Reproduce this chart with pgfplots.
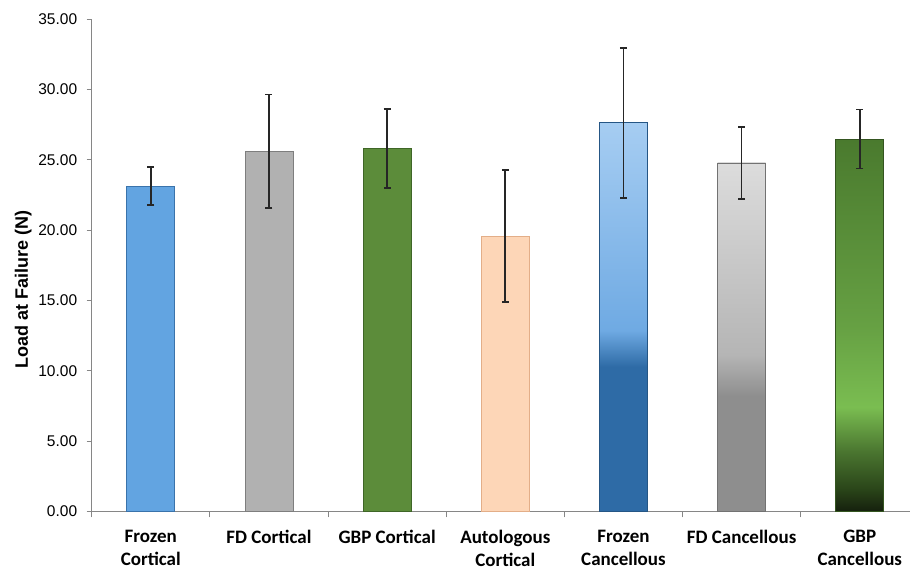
\documentclass[border=0pt]{standalone}
\usepackage{fontspec}
\setmainfont{Liberation Sans}
\newfontfamily\carlito{Carlito}
\usepackage{pgfplots}
\pgfplotsset{compat=1.18}
\usetikzlibrary{calc}

\definecolor{axisgray}{HTML}{868686}
\definecolor{fzcFill}{HTML}{62A4E1}
\definecolor{fzcDraw}{HTML}{3A73AB}
\definecolor{fdcFill}{HTML}{B1B1B1}
\definecolor{fdcDraw}{HTML}{7E7E7E}
\definecolor{gbcFill}{HTML}{5C8C3A}
\definecolor{gbcDraw}{HTML}{3F6627}
\definecolor{autFill}{HTML}{FDD6B7}
\definecolor{autDraw}{HTML}{E3AE88}
% cancellous gradients
\definecolor{fcDark}{HTML}{2E6BA6}
\definecolor{fcMid}{HTML}{6FAAE3}
\definecolor{fcTop}{HTML}{A6CDF2}
\definecolor{gcDark}{HTML}{8E8E8E}
\definecolor{gcMid}{HTML}{B5B5B5}
\definecolor{gcTop}{HTML}{DCDCDC}
\definecolor{ggBot}{HTML}{15200D}
\definecolor{ggLow}{HTML}{2A4519}
\definecolor{ggBright}{HTML}{7ABD51}
\definecolor{ggMid}{HTML}{66A043}
\definecolor{ggTop}{HTML}{4A7A2E}

% bar bbox maps to 25bp..75bp
\pgfdeclareverticalshading{frozencanc}{100bp}{color(0bp)=(fcDark); color(25bp)=(fcDark); color(43.6bp)=(fcDark); color(48.3bp)=(fcMid); color(75bp)=(fcTop); color(100bp)=(fcTop)}
\pgfdeclareverticalshading{fdcanc}{100bp}{color(0bp)=(gcDark); color(25bp)=(gcDark); color(41.5bp)=(gcDark); color(47.5bp)=(gcMid); color(75bp)=(gcTop); color(100bp)=(gcTop)}
\pgfdeclareverticalshading{gbpcanc}{100bp}{color(0bp)=(ggBot); color(25bp)=(ggBot); color(28bp)=(ggLow); color(33bp)=(ggLow!60!ggBright); color(39bp)=(ggBright); color(50bp)=(ggMid); color(75bp)=(ggTop); color(100bp)=(ggTop)}

\begin{document}
\begin{tikzpicture}
  \begin{axis}[
      scale only axis,
      width=818.3pt, height=492.5pt,
      axis lines=left,
      axis line style={-, draw=axisgray, line width=1pt},
      xmin=-0.5, xmax=6.425,
      ymin=0, ymax=35,
      ytick={0,5,...,35},
      yticklabel style={/pgf/number format/fixed, /pgf/number format/fixed zerofill,
        /pgf/number format/precision=2, /pgf/number format/assume math mode=true},
      yticklabel style={font=\fontsize{15.5}{18}\selectfont, color=black, xshift=-6pt},
      xtick={0,...,6},
      xticklabels={{Frozen\\Cortical}, {FD Cortical}, {GBP Cortical}, {Autologous\\Cortical}, {Frozen\\Cancellous}, {FD Cancellous}, {GBP\\Cancellous}},
      xticklabel style={align=center, font=\carlito\bfseries\fontsize{19}{23.5}\selectfont, color=black, yshift=-10pt},
      major x tick style={draw=none},
      minor xtick={-0.5,0.5,...,6.5},
      tick align=outside,
      major tick length=5pt,
      minor tick length=6pt,
      tick style={axisgray, line width=0.8pt},
      ylabel={Load at Failure (N)},
      ylabel style={at={(ticklabel cs:0.447)}, font=\bfseries\fontsize{18}{21}\selectfont, color=black, xshift=2pt},
      ybar, bar width=48pt, bar shift=0pt,
      error bars/y dir=both, error bars/y explicit,
      error bars/error bar style={line width=1.6pt, color=black!85},
      error bars/error mark options={rotate=90, mark size=3.5pt, line width=1.6pt, color=black!85},
      clip=false,
    ]
    \addplot[fill=fzcFill, draw=fzcDraw, line width=0.8pt] coordinates {(0,23.13) +- (0,1.35)};
    \addplot[fill=fdcFill, draw=fdcDraw, line width=0.8pt] coordinates {(1,25.60) +- (0,4.04)};
    \addplot[fill=gbcFill, draw=gbcDraw, line width=0.8pt] coordinates {(2,25.79) +- (0,2.82)};
    \addplot[fill=autFill, draw=autDraw, line width=0.8pt] coordinates {(3,19.58) +- (0,4.71)};
    \addplot[shading=frozencanc, draw=fcDark!80!black, line width=0.8pt] coordinates {(4,27.63) +- (0,5.33)};
    \addplot[shading=fdcanc, draw=gcDark!80!black, line width=0.8pt] coordinates {(5,24.77) +- (0,2.56)};
    \addplot[shading=gbpcanc, draw=ggTop!70!black, line width=0.8pt] coordinates {(6,26.47) +- (0,2.09)};
  \end{axis}
  \pgfresetboundingbox
  \path[use as bounding box] ($(current axis.south west)+(-91.7pt,-60.5pt)$) rectangle ($(current axis.north east)+(0pt,19pt)$);
\end{tikzpicture}
\end{document}
